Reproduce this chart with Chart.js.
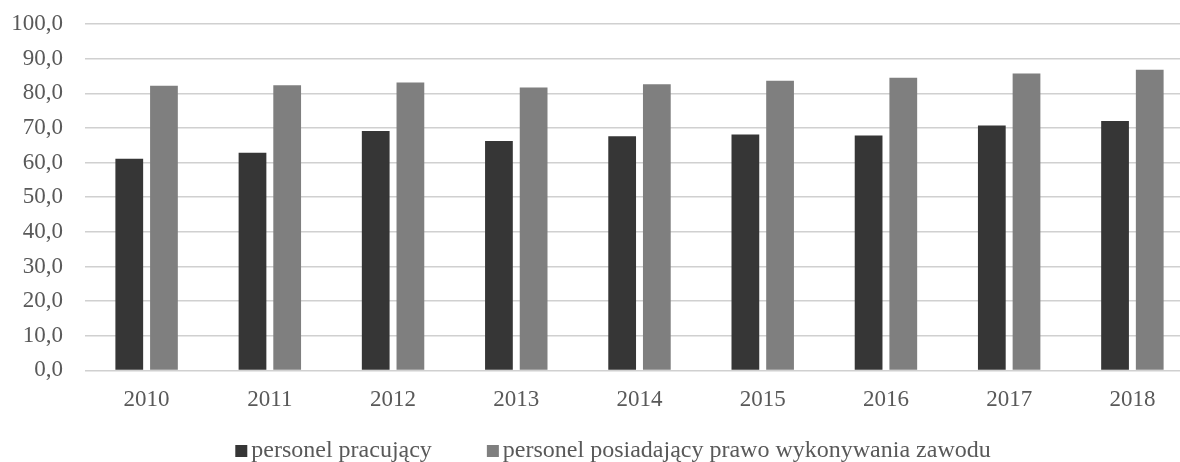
<!DOCTYPE html>
<html lang="pl">
<head>
<meta charset="utf-8">
<title>Personel pracujący i posiadający prawo wykonywania zawodu</title>
<script src="https://cdn.jsdelivr.net/npm/chart.js@4/dist/chart.umd.min.js"></script>
<style>
  html, body { margin: 0; padding: 0; background: #ffffff; overflow: hidden; }
  #wrap { width: 1226px; height: 462px; }
</style>
</head>
<body>
<div id="wrap"><canvas id="chart" width="1226" height="462"></canvas></div>
<script>
// Lata
const years = ['2010', '2011', '2012', '2013', '2014', '2015', '2016', '2017', '2018'];

// Serie danych
const personelPracujacy = [61.1, 62.8, 69.1, 66.2, 67.6, 68.1, 67.8, 70.7, 72.0];
const personelZPrawem   = [82.2, 82.3, 83.1, 81.7, 82.6, 83.6, 84.5, 85.7, 86.8];

// Nazwy serii
const seriesNames = ['personel pracujący', 'personel posiadający prawo wykonywania zawodu'];

// Etykiety osi Y (0,0 ... 100,0)
const yTickLabels = ['0,0', '10,0', '20,0', '30,0', '40,0', '50,0', '60,0', '70,0', '80,0', '90,0', '100,0'];

const FONT = '"Liberation Serif", "Times New Roman", serif';
const TEXT = '#595959';
const GRID = '#d0d0d0';

Chart.defaults.font.family = FONT;
Chart.defaults.color = TEXT;

// Legenda pod wykresem: kwadrat, tekst, odstęp między pozycjami
const bottomLegend = {
  id: 'bottomLegend',
  afterDraw(chart) {
    const ctx = chart.ctx;
    const box = 12, boxGap = 4, itemGap = 55, baseline = 457;
    ctx.save();
    ctx.font = '24px ' + FONT;
    ctx.textBaseline = 'alphabetic';
    ctx.textAlign = 'left';
    const items = chart.data.datasets.map(ds => ({
      text: ds.label,
      color: ds.backgroundColor,
      w: ctx.measureText(ds.label).width
    }));
    const total = items.reduce((s, it) => s + box + boxGap + it.w, 0) + itemGap * (items.length - 1);
    let x = chart.width / 2 - total / 2;
    items.forEach(it => {
      ctx.fillStyle = it.color;
      ctx.fillRect(x, baseline - box, box, box);
      x += box + boxGap;
      ctx.fillStyle = TEXT;
      ctx.fillText(it.text, x, baseline);
      x += it.w + itemGap;
    });
    ctx.restore();
  }
};

new Chart(document.getElementById('chart'), {
  type: 'bar',
  data: {
    labels: years,
    datasets: [
      {
        label: seriesNames[0],
        data: personelPracujacy,
        backgroundColor: '#363636',
        borderWidth: 0,
        categoryPercentage: 0.563,
        barPercentage: 0.8
      },
      {
        label: seriesNames[1],
        data: personelZPrawem,
        backgroundColor: '#7f7f7f',
        borderWidth: 0,
        categoryPercentage: 0.563,
        barPercentage: 0.8
      }
    ]
  },
  plugins: [bottomLegend],
  options: {
    responsive: false,
    animation: false,
    devicePixelRatio: 1,
    layout: { padding: { left: 13, right: 32, top: 24, bottom: 32 } },
    plugins: {
      tooltip: { enabled: false },
      legend: { display: false }
    },
    scales: {
      x: {
        grid: { display: false, drawTicks: false },
        border: { display: false },
        ticks: { padding: 16, color: TEXT, font: { size: 23, family: FONT } }
      },
      y: {
        min: 0,
        max: 100,
        grid: { color: GRID, lineWidth: 1.5, drawTicks: false },
        border: { display: false },
        ticks: {
          stepSize: 10,
          padding: 22,
          color: TEXT,
          font: { size: 23, family: FONT },
          callback: (value, index) => yTickLabels[index]
        },
        afterFit: (scale) => {
          scale.width = 72;
          scale.paddingTop = 0;
          scale.paddingBottom = 0;
        }
      }
    }
  }
});
</script>
</body>
</html>
